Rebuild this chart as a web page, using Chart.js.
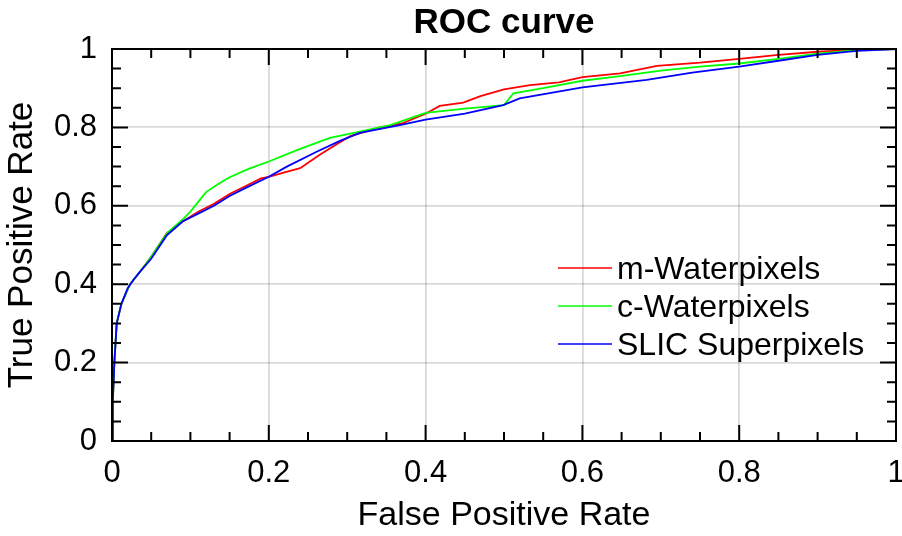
<!DOCTYPE html>
<html>
<head>
<meta charset="utf-8">
<title>ROC curve</title>
<script src="https://cdn.jsdelivr.net/npm/chart.js@4.4.1/dist/chart.umd.min.js"></script>
<style>
    html, body { margin: 0; padding: 0; background: #fff; }
    #wrap { width: 902px; height: 536px; }
</style>
</head>
<body>
<div id="wrap"><canvas id="roc" width="902" height="536"></canvas></div>
<script>
// ==================== DATA ====================

const chartTitle = 'ROC curve';
const seriesNames = ['m-Waterpixels', 'c-Waterpixels', 'SLIC Superpixels'];
const seriesColors = ['#ff0000', '#00ff00', '#0000ff'];

const xTickLabels = ['0', '0.2', '0.4', '0.6', '0.8', '1'];
const yTickLabels = ['0', '0.2', '0.4', '0.6', '0.8', '1'];

// m-Waterpixels
const mFpr = [0, 0.001, 0.003, 0.006, 0.012, 0.023, 0.035, 0.05, 0.07, 0.09, 0.11, 0.13, 0.15, 0.17, 0.19, 0.2, 0.22, 0.24, 0.265, 0.285, 0.304, 0.342, 0.37, 0.4, 0.418, 0.448, 0.47, 0.5, 0.533, 0.57, 0.6, 0.648, 0.695, 0.75, 0.8, 0.85, 0.9, 0.95, 1];
const mTpr = [0, 0.1, 0.2, 0.3, 0.35, 0.4, 0.43, 0.47, 0.53, 0.56, 0.585, 0.605, 0.63, 0.65, 0.67, 0.674, 0.685, 0.696, 0.73, 0.755, 0.778, 0.8, 0.81, 0.835, 0.855, 0.863, 0.88, 0.897, 0.908, 0.915, 0.928, 0.938, 0.957, 0.965, 0.975, 0.985, 0.993, 0.998, 1];

// c-Waterpixels
const cFpr = [0, 0.001, 0.003, 0.006, 0.012, 0.023, 0.035, 0.05, 0.07, 0.09, 0.1, 0.11, 0.12, 0.135, 0.15, 0.175, 0.2, 0.24, 0.278, 0.325, 0.355, 0.4, 0.45, 0.5, 0.512, 0.55, 0.6, 0.648, 0.7, 0.75, 0.8, 0.85, 0.9, 0.95, 1];
const cTpr = [0, 0.1, 0.2, 0.3, 0.35, 0.4, 0.43, 0.47, 0.53, 0.565, 0.585, 0.61, 0.635, 0.655, 0.673, 0.695, 0.713, 0.745, 0.773, 0.793, 0.806, 0.837, 0.848, 0.857, 0.887, 0.9, 0.919, 0.931, 0.945, 0.955, 0.963, 0.975, 0.988, 0.997, 1];

// SLIC Superpixels
const sFpr = [0, 0.001, 0.003, 0.006, 0.012, 0.02, 0.027, 0.035, 0.05, 0.07, 0.09, 0.11, 0.13, 0.15, 0.17, 0.2, 0.223, 0.261, 0.29, 0.316, 0.367, 0.4, 0.45, 0.499, 0.52, 0.56, 0.6, 0.682, 0.74, 0.8, 0.85, 0.9, 0.95, 1];
const sTpr = [0, 0.1, 0.2, 0.3, 0.35, 0.39, 0.41, 0.43, 0.465, 0.525, 0.56, 0.58, 0.6, 0.625, 0.645, 0.674, 0.7, 0.738, 0.765, 0.786, 0.806, 0.82, 0.835, 0.857, 0.874, 0.888, 0.902, 0.921, 0.94, 0.955, 0.97, 0.985, 0.995, 1];

// ==================== HELPERS ====================

const FONT = "'Liberation Sans', Arial, Helvetica, sans-serif";

function toPoints(xs, ys) {
    return xs.map((x, i) => ({ x: x, y: ys[i] }));
}

// frame with inward ticks, title and legend drawn over the plot
const framePlugin = {
    id: 'frame',
    afterDatasetsDraw(chart) {
        const { ctx, chartArea: a, scales } = chart;
        const xs = scales.x, ys = scales.y;
        ctx.save();
        ctx.strokeStyle = '#000';
        ctx.lineWidth = 2;

        // major + minor ticks on all four sides
        ctx.beginPath();
        for (let k = 0; k <= 20; k++) {
            const v = k / 20;
            const len = (k % 4 === 0) ? 16 : 9;
            const px = xs.getPixelForValue(v);
            const py = ys.getPixelForValue(v);
            ctx.moveTo(px, a.bottom); ctx.lineTo(px, a.bottom - len);
            ctx.moveTo(px, a.top); ctx.lineTo(px, a.top + len);
            ctx.moveTo(a.left, py); ctx.lineTo(a.left + len, py);
            ctx.moveTo(a.right, py); ctx.lineTo(a.right - len, py);
        }
        ctx.stroke();
        ctx.strokeRect(a.left, a.top, a.right - a.left, a.bottom - a.top);

        // title centred over the plot
        ctx.fillStyle = '#000';
        ctx.font = 'bold 35px ' + FONT;
        ctx.textAlign = 'center';
        ctx.textBaseline = 'middle';
        ctx.fillText(chartTitle, (a.left + a.right) / 2, 23);

        // legend (no box)
        ctx.font = '32px ' + FONT;
        ctx.textAlign = 'left';
        ctx.lineWidth = 1.5;
        chart.data.datasets.forEach((ds, i) => {
            const ly = a.top + 219 + i * 38;
            ctx.strokeStyle = ds.borderColor;
            ctx.beginPath();
            ctx.moveTo(a.left + 446, ly);
            ctx.lineTo(a.left + 500, ly);
            ctx.stroke();
            ctx.fillText(ds.label, a.left + 505, ly + 2);
        });
        ctx.restore();
    }
};

// ==================== CHART ====================

const allX = [mFpr, cFpr, sFpr];
const allY = [mTpr, cTpr, sTpr];

const datasets = seriesNames.map((name, i) => ({
    label: name,
    data: toPoints(allX[i], allY[i]),
    borderColor: seriesColors[i],
    backgroundColor: seriesColors[i],
    borderWidth: 1.8,
    pointRadius: 0,
    showLine: true,
    tension: 0,
    order: 3 - i
}));

new Chart(document.getElementById('roc'), {
    type: 'scatter',
    data: { datasets: datasets },
    options: {
        responsive: false,
        animation: false,
        layout: {
            autoPadding: false,
            padding: { top: 49, right: 6, bottom: 0, left: 0 }
        },
        plugins: {
            legend: { display: false },
            title: { display: false },
            tooltip: { enabled: false }
        },
        scales: {
            x: {
                type: 'linear',
                min: 0,
                max: 1,
                afterFit: s => {
                    s.height = 95;
                    s.paddingLeft = 0;
                    s.paddingRight = 0;
                },
                ticks: {
                    stepSize: 0.2,
                    padding: 14,
                    color: '#000',
                    font: { family: FONT, size: 31 },
                    maxRotation: 0,
                    callback: (v, i) => xTickLabels[i]
                },
                grid: { color: 'rgba(0,0,0,0.15)', lineWidth: 1.8, drawTicks: false },
                border: { display: false },
                title: {
                    display: true,
                    text: 'False Positive Rate',
                    color: '#000',
                    font: { family: FONT, size: 34 },
                    padding: { top: 1, bottom: 0 }
                }
            },
            y: {
                type: 'linear',
                min: 0,
                max: 1,
                afterFit: s => {
                    s.width = 112;
                    s.paddingTop = 0;
                    s.paddingBottom = 0;
                },
                ticks: {
                    stepSize: 0.2,
                    padding: 15,
                    color: '#000',
                    font: { family: FONT, size: 31 },
                    callback: (v, i) => yTickLabels[i]
                },
                grid: { color: 'rgba(0,0,0,0.15)', lineWidth: 1.8, drawTicks: false },
                border: { display: false },
                title: {
                    display: true,
                    text: 'True Positive Rate',
                    color: '#000',
                    font: { family: FONT, size: 35 },
                    padding: { top: 1, bottom: 0 }
                }
            }
        }
    },
    plugins: [framePlugin]
});
</script>
</body>
</html>
